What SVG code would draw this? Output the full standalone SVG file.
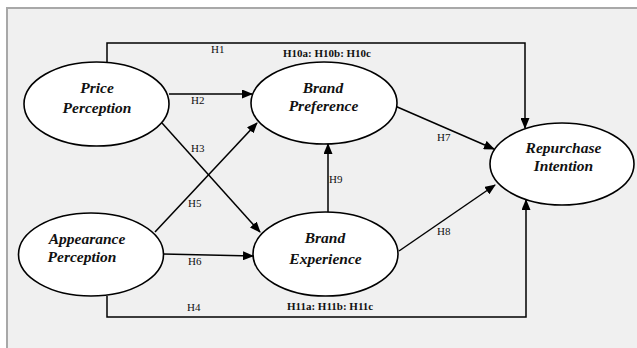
<svg xmlns="http://www.w3.org/2000/svg" width="637" height="348" viewBox="0 0 637 348">
<defs>
<marker id="arr" markerWidth="11" markerHeight="9" refX="10" refY="4.5" orient="auto" markerUnits="userSpaceOnUse">
<path d="M0,0 L11,4.5 L0,9 Z" fill="#000"/>
</marker>
<style>
.node{fill:#fff;stroke:#000;stroke-width:1.6}
.nt{font-size:15.5px;font-weight:bold;font-style:italic;text-anchor:middle;fill:#111}
.lbl{font-size:11px;fill:#111}
.lb{font-weight:bold}
.conn{fill:none;stroke:#000;stroke-width:1.5}
</style>
</defs>
<rect x="0" y="0" width="637" height="348" fill="#fff"/>
<rect x="7" y="8" width="640" height="350" fill="#f0f0f0" stroke="#a8a8a8" stroke-width="2"/>

<g id="connectors" font-family="'Liberation Serif', 'Times New Roman', serif">
<polyline class="conn" points="107,62 107,43 525,43 525,128" marker-end="url(#arr)"/>
<line class="conn" x1="169" y1="94" x2="252" y2="94" marker-end="url(#arr)"/>
<line class="conn" x1="162" y1="123" x2="260" y2="232" marker-end="url(#arr)"/>
<line class="conn" x1="155" y1="232" x2="257" y2="123" marker-end="url(#arr)"/>
<line class="conn" x1="163" y1="254" x2="253" y2="256" marker-end="url(#arr)"/>
<polyline class="conn" points="107,296 107,317 526,317 526,200" marker-end="url(#arr)"/>
<line class="conn" x1="395" y1="106" x2="494" y2="149" marker-end="url(#arr)"/>
<line class="conn" x1="399" y1="251" x2="495" y2="185" marker-end="url(#arr)"/>
<line class="conn" x1="328" y1="212" x2="328" y2="144" marker-end="url(#arr)"/>
<text class="lbl" x="211" y="53">H1</text>
<text class="lbl lb" x="283" y="57">H10a: H10b: H10c</text>
<text class="lbl" x="191" y="104">H2</text>
<text class="lbl" x="191" y="152">H3</text>
<text class="lbl" x="188" y="207">H5</text>
<text class="lbl" x="188" y="265">H6</text>
<text class="lbl" x="187" y="311">H4</text>
<text class="lbl lb" x="287" y="310">H11a: H11b: H11c</text>
<text class="lbl" x="437" y="141">H7</text>
<text class="lbl" x="437" y="235">H8</text>
<text class="lbl" x="329" y="183">H9</text>
</g>

<g id="nodes" font-family="'Liberation Serif', 'Times New Roman', serif">
<g id="price">
<ellipse class="node" cx="96.5" cy="104" rx="72.5" ry="42"/>
<text class="nt" x="97" y="93">Price</text>
<text class="nt" x="97" y="113">Perception</text>
</g>
<g id="appearance">
<ellipse class="node" cx="91" cy="254.5" rx="72.5" ry="41.5"/>
<text class="nt" x="87" y="244">Appearance</text>
<text class="nt" x="82" y="262">Perception</text>
</g>
<g id="preference">
<ellipse class="node" cx="324" cy="103" rx="73" ry="41"/>
<text class="nt" x="323" y="93">Brand</text>
<text class="nt" x="323.5" y="111">Preference</text>
</g>
<g id="experience">
<ellipse class="node" cx="325.5" cy="254" rx="72.5" ry="42"/>
<text class="nt" x="325" y="243">Brand</text>
<text class="nt" x="325.5" y="264">Experience</text>
</g>
<g id="repurchase">
<ellipse class="node" cx="562" cy="164" rx="72" ry="41"/>
<text class="nt" x="563.5" y="153">Repurchase</text>
<text class="nt" x="563.5" y="171">Intention</text>
</g>
</g>
</svg>
